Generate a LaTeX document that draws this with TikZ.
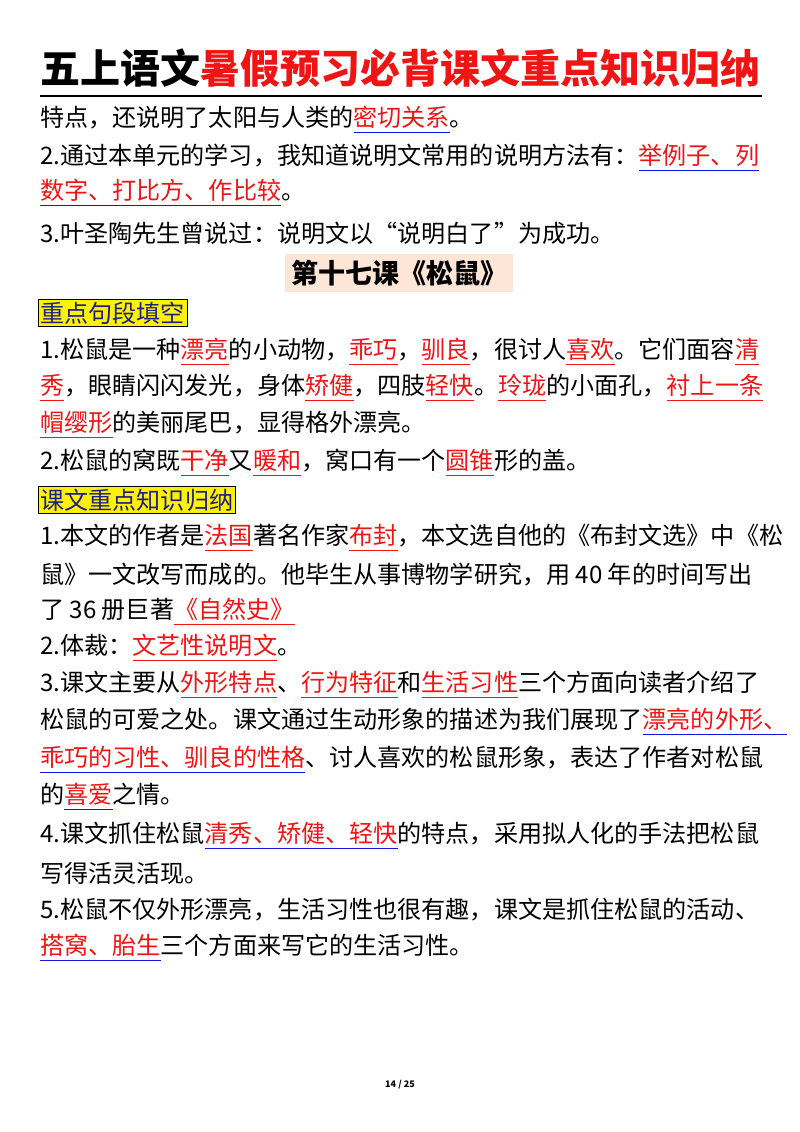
\documentclass[tikz,border=0pt]{standalone}
\usepackage{fontspec}
\setmainfont{Noto Sans CJK SC}
\definecolor{rd}{RGB}{240,20,20}
\definecolor{bl}{RGB}{20,20,230}
\definecolor{hd}{RGB}{30,30,140}
\newcommand\hr[1]{\setbox0\hbox{\textcolor{rd}{#1}}\rlap{\textcolor{rd}{\rule[-0.27em]{\wd0}{1.3pt}}}\box0}
\newcommand\hb[1]{\setbox0\hbox{\textcolor{rd}{#1}}\rlap{\textcolor{bl}{\rule[-0.27em]{\wd0}{1.3pt}}}\box0}
\tikzset{ln/.style={anchor=west,inner sep=0,font=\fontsize{24.1}{26}\selectfont},
 sec/.style={anchor=west,inner sep=2pt,draw=black,line width=0.8pt,fill=yellow,text=hd,font=\fontsize{24.1}{26}\selectfont}}
\begin{document}
\begin{tikzpicture}[x=1pt,y=-1pt]
\useasboundingbox[fill=white] (0,0) rectangle (800,1132);
\node[inner sep=0,font=\fontsize{40}{44}\selectfont\bfseries] (t) at (400,68) {五上语文\textcolor{rd}{暑假预习必背课文重点知识归纳}};
\draw[line width=1.5pt] (40,96) -- (762,96);
\node[ln] (l1) at (40,120) {特点，还说明了太阳与人类的\hb{密切关系}。};
\node[ln] (l2) at (40,158) {2.通过本单元的学习，我知道说明文常用的说明方法有：\hb{举例子、列}};
\node[ln] (l3) at (40,193) {\hb{数字、打比方、作比较}。};
\node[ln] (l4) at (40,233) {3.叶圣陶先生曾说过：说明文以“说明白了”为成功。};
\node[anchor=center,fill={rgb,255:red,253;green,230;blue,214},inner xsep=6pt,inner ysep=6pt,font=\fontsize{27}{30}\selectfont\bfseries] (h) at (399,273) {第十七课《松鼠》};
\node[sec] (s1) at (38,313) {重点句段填空};
\node[ln] (a1) at (40,352) {1.松鼠是一种\hr{漂亮}的小动物，\hr{乖巧}，\hr{驯良}，很讨人\hr{喜欢}。它们面容\hr{清}};
\node[ln] (a2) at (40,388) {\hr{秀}，眼睛闪闪发光，身体\hr{矫健}，四肢\hr{轻快}。\hr{玲珑}的小面孔，\hr{衬上一条}};
\node[ln] (a3) at (40,425) {\hr{帽缨形}的美丽尾巴，显得格外漂亮。};
\node[ln] (a4) at (40,463) {2.松鼠的窝既\hr{干净}又\hr{暖和}，窝口有一个\hr{圆锥}形的盖。};
\node[sec] (s2) at (38,500) {课文重点知识归纳};
\node[ln] (b1) at (40,538) {1.本文的作者是\hr{法国}著名作家\hr{布封}，本文选自他的《布封文选》中《松};
\node[ln] (b2) at (40,575) {鼠》一文改写而成的。他毕生从事博物学研究，用 40 年的时间写出};
\node[ln] (b3) at (40,612) {了 36 册巨著\hr{《自然史》}};
\node[ln] (b4) at (40,648) {2.体裁：\hr{文艺性说明文}。};
\node[ln] (b5) at (40,685) {3.课文主要从\hr{外形特点}、\hr{行为特征}和\hr{生活习性}三个方面向读者介绍了};
\node[ln] (b6) at (40,722) {松鼠的可爱之处。课文通过生动形象的描述为我们展现了\hb{漂亮的外形、}};
\node[ln] (b7) at (40,760) {\hb{乖巧的习性、驯良的性格}、讨人喜欢的松鼠形象，表达了作者对松鼠};
\node[ln] (b8) at (40,797) {的\hb{喜爱}之情。};
\node[ln] (b9) at (40,836) {4.课文抓住松鼠\hb{清秀、矫健、轻快}的特点，采用拟人化的手法把松鼠};
\node[ln] (b10) at (40,873) {写得活灵活现。};
\node[ln] (b11) at (40,910) {5.松鼠不仅外形漂亮，生活习性也很有趣，课文是抓住松鼠的活动、};
\node[ln] (b12) at (40,948) {\hb{搭窝、胎生}三个方面来写它的生活习性。};
\node[inner sep=0,font=\fontsize{9}{10}\selectfont\bfseries] (f) at (400,1085) {14 / 25};
\end{tikzpicture}
\end{document}
